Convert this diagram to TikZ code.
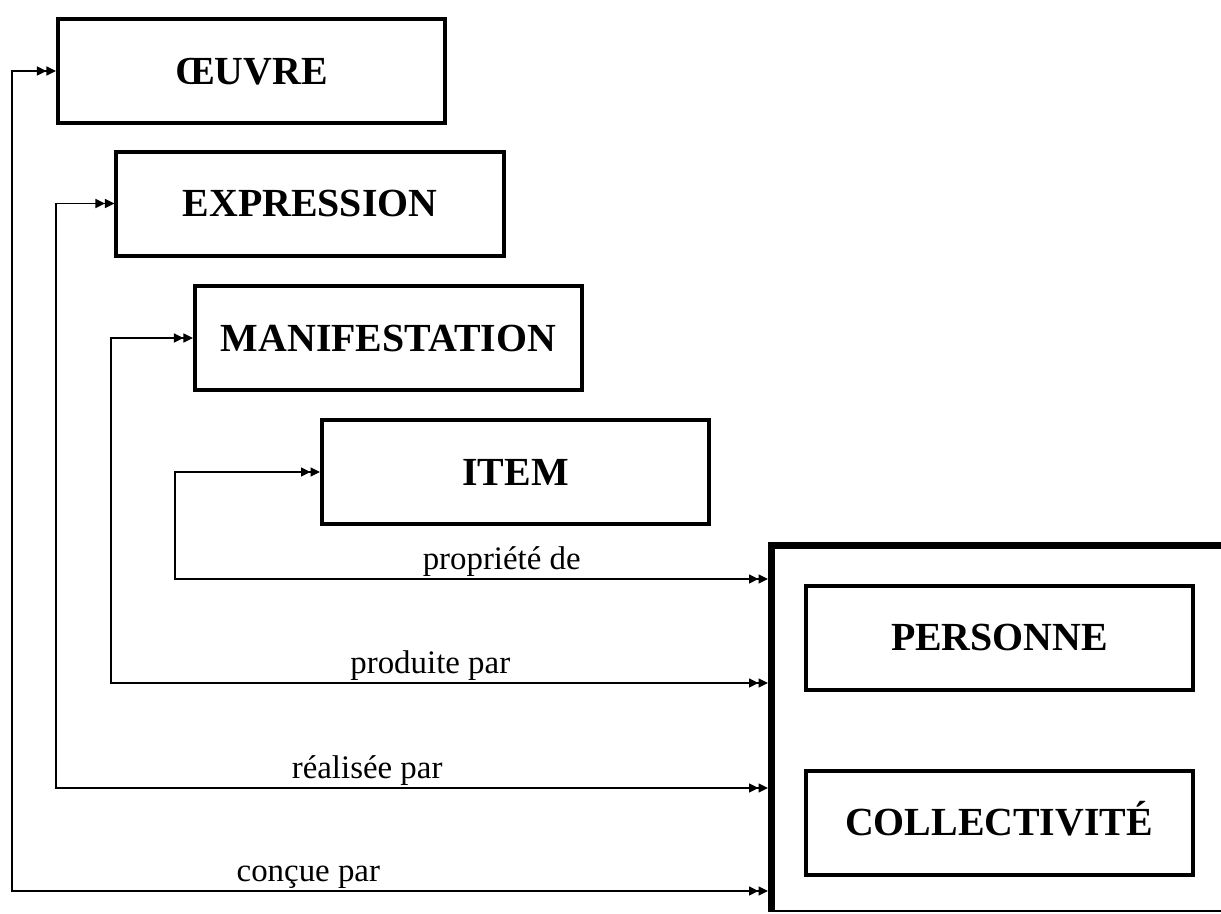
\documentclass[tikz,border=0pt]{standalone}
\usepackage{fontspec}
\setmainfont{Liberation Serif}
\usetikzlibrary{arrows.meta}
\definecolor{boxColor}{HTML}{000000}
\definecolor{linkColor}{HTML}{000000}
\definecolor{wallColor}{HTML}{000000}
\def\textOeuvre{ŒUVRE}
\def\textExpression{EXPRESSION}
\def\textManif{MANIFESTATION}
\def\textItem{ITEM}
\def\textPersonne{PERSONNE}
\def\textCollectivite{COLLECTIVITÉ}
\tikzset{
entity/.style={draw=boxColor, line width=4bp, minimum width=387bp, minimum height=104bp,
inner sep=0pt, text height=26.5bp, text depth=0pt, font=\fontsize{40}{48}\selectfont\bfseries},
link/.style={draw=linkColor, line width=1.5bp,
{Triangle[length=9.5bp,width=9bp,sep=0bp]Triangle[length=9.5bp,width=9bp,sep=0bp]}-{Triangle[length=9.5bp,width=9bp,sep=0bp]Triangle[length=9.5bp,width=9bp,sep=0bp]}},
role/.style={anchor=south, inner sep=2bp, font=\fontsize{33}{40}\selectfont},
}

\begin{document}
\begin{tikzpicture}[x=1bp,y=-1bp]
\useasboundingbox (0, 0) rectangle (1221, 914);

% entity layer
\begin{scope}
\node[entity] (oeuvre) at (251.5, 71) {\textOeuvre};
\node[entity] (expression) at (310, 203.5) {\textExpression};
\node[entity] (manif) at (388.5, 338) {\textManif};
\node[entity] (item) at (515.5, 472) {\textItem};
\end{scope}

% group layer
\begin{scope}
\node[minimum width=480bp, minimum height=370bp, inner sep=0pt, outer sep=0pt,
anchor=north west] (groupe) at (768, 542) {};
\draw[color=wallColor, line width=7bp] ([xshift=3.5bp]groupe.south west)
-- ([xshift=3.5bp, yshift=-3.5bp]groupe.north west) -- ([yshift=-3.5bp]groupe.north east);
\draw[color=wallColor, line width=2bp] ([yshift=1bp]groupe.south west) -- ([yshift=1bp]groupe.south east);
\node[entity] (personne) at (999.5, 637.5) {\textPersonne};
\node[entity] (collectivite) at (999, 822.5) {\textCollectivite};
\end{scope}

% link layer
\begin{scope}
\coordinate (bendItem) at (175, 579);
\coordinate (bendManif) at (111, 683);
\coordinate (bendExpression) at (56, 788);
\coordinate (bendOeuvre) at (12, 891);
\draw[link] (item.west) -| (bendItem) -- (bendItem -| groupe.west)
node[role, pos=0.551] {propriété de};
\draw[link] (manif.west) -| (bendManif) -- (bendManif -| groupe.west)
node[role, pos=0.486] {produite par};
\draw[link] (expression.west) -| (bendExpression) -- (bendExpression -| groupe.west)
node[role, pos=0.437] {réalisée par};
\draw[link] (oeuvre.west) -| (bendOeuvre) -- (bendOeuvre -| groupe.west)
node[role, pos=0.392] {conçue par};
\end{scope}

\end{tikzpicture}
\end{document}
